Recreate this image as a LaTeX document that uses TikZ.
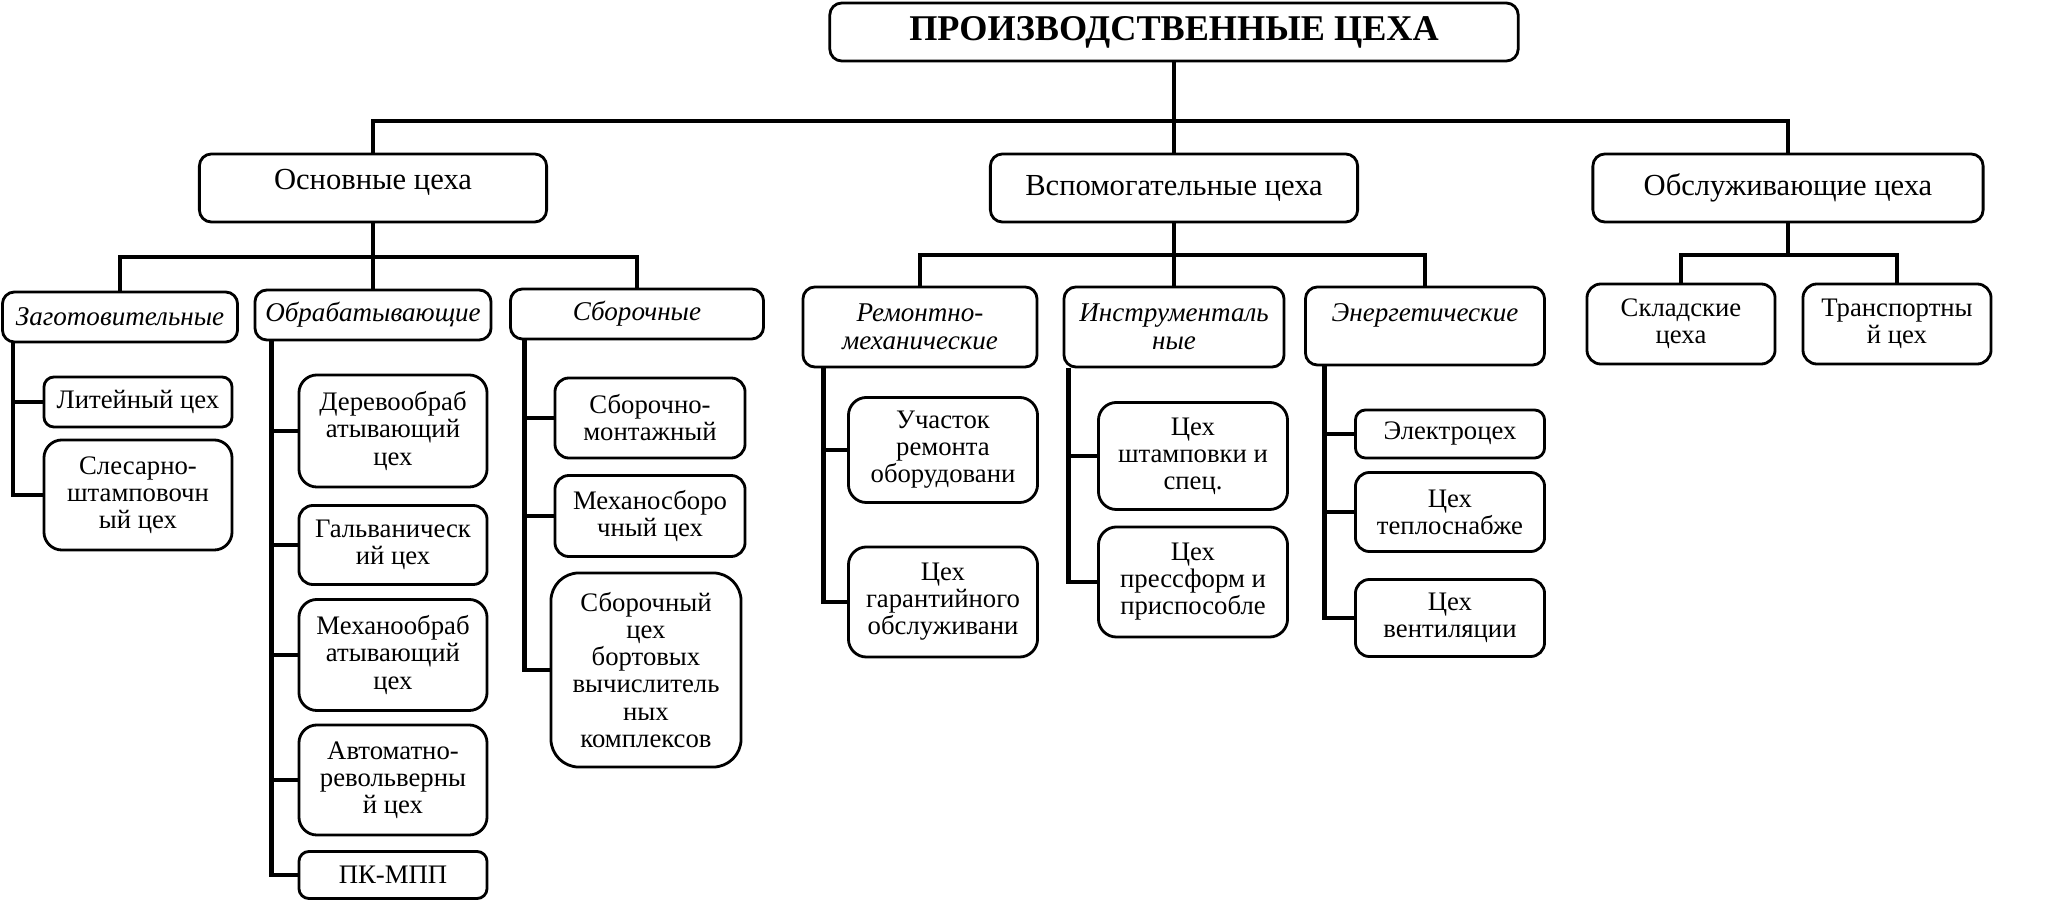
\documentclass[tikz,border=0pt]{standalone}
\usepackage{fontspec}
\setmainfont{Liberation Serif}
\usetikzlibrary{calc}

\begin{document}
\begin{tikzpicture}[x=0.01cm, y=-0.01cm,
  shop/.style={draw, line width=0.8pt, rounded corners=#1, align=center,
               inner sep=1pt, font=\fontsize{7.6}{7.7}\selectfont},
  shop/.default=1.4mm,
  group/.style={shop=1.2mm, font=\fontsize{7.7}{7.9}\selectfont\itshape},
  dept/.style={shop=1.2mm, font=\fontsize{8.7}{10}\selectfont,
               text height=6pt, text depth=1.5pt},
  link/.style={line width=1.3pt}]
  \useasboundingbox (0,0) rectangle (2048,919);

  % Top box
  \node[shop=1.2mm, minimum width=6.88cm, minimum height=0.58cm,
        font=\fontsize{10.3}{12}\selectfont\bfseries] (top) at (1174,32)
        {ПРОИЗВОДСТВЕННЫЕ ЦЕХА};

  % Three kinds of shops
  \node[dept, minimum width=3.47cm, minimum height=0.68cm, text depth=5pt]
        (osn) at (373,188) {Основные цеха};
  \node[dept, minimum width=3.67cm, minimum height=0.68cm]
        (vsp) at (1174,188) {Вспомогательные цеха};
  \node[dept, minimum width=3.90cm, minimum height=0.68cm]
        (obs) at (1788,188) {Обслуживающие цеха};

  % Groups
  \node[group, minimum width=2.35cm, minimum height=0.50cm] (zag) at (120,317) {Заготовительные};
  \node[group, minimum width=2.36cm, minimum height=0.50cm] (obr) at (373,315) {Обрабатывающие};
  \node[group, minimum width=2.53cm, minimum height=0.50cm] (sbr) at (637,314) {Сборочные};
  \node[group, minimum width=2.34cm, minimum height=0.80cm] (rem) at (920,327) {Ремонтно-\\механические};
  \node[group, minimum width=2.20cm, minimum height=0.80cm] (ins) at (1174,327) {Инструменталь\\ные};
  \node[group, minimum width=2.39cm, minimum height=0.78cm] (enr) at (1425,326) {Энергетические\\\mbox{}};
  \node[shop, minimum width=1.88cm, minimum height=0.80cm] (skl) at (1681,324) {Складские\\цеха};
  \node[shop, minimum width=1.88cm, minimum height=0.80cm] (trn) at (1897,324) {Транспортны\\й цех};

  % Procurement shops
  \node[shop=1mm, minimum width=1.88cm, minimum height=0.50cm] (lit) at (138,402) {Литейный цех};
  \node[shop=1.8mm, minimum width=1.88cm, minimum height=1.10cm] (sls) at (138,495) {Слесарно-\\штамповочн\\ый цех};

  % Processing shops
  \node[shop=1.8mm, minimum width=1.88cm, minimum height=1.12cm] (der) at (393,431) {Деревообраб\\атывающий\\цех};
  \node[shop, minimum width=1.88cm, minimum height=0.79cm] (glv) at (393,545) {Гальваническ\\ий цех};
  \node[shop=1.8mm, minimum width=1.88cm, minimum height=1.11cm] (mex) at (393,655) {Механообраб\\атывающий\\цех};
  \node[shop=1.8mm, minimum width=1.88cm, minimum height=1.10cm] (avt) at (393,780) {Автоматно-\\револьверны\\й цех};
  \node[shop=1mm, minimum width=1.88cm, minimum height=0.47cm] (pkm) at (393,875) {ПК-МПП};

  % Assembly shops
  \node[shop, minimum width=1.90cm, minimum height=0.80cm] (smn) at (650,418) {Сборочно-\\монтажный};
  \node[shop, minimum width=1.90cm, minimum height=0.81cm] (msb) at (650,516) {Механосборо\\чный цех};
  \node[shop=2.8mm, minimum width=1.90cm, minimum height=1.94cm] (bvk) at (646,670)
        {Сборочный\\цех\\бортовых\\вычислитель\\ных\\комплексов};

  % Auxiliary shops
  \node[shop=1.8mm, minimum width=1.89cm, minimum height=1.05cm] (uch) at (943,450) {Участок\\ремонта\\оборудовани};
  \node[shop=1.8mm, minimum width=1.89cm, minimum height=1.10cm] (gar) at (943,602) {Цех\\гарантийного\\обслуживани};
  \node[shop=1.8mm, minimum width=1.89cm, minimum height=1.07cm] (stm) at (1193,456) {Цех\\штамповки и\\спец.};
  \node[shop=1.8mm, minimum width=1.89cm, minimum height=1.10cm] (prs) at (1193,582) {Цех\\прессформ и\\приспособле};
  \node[shop=1mm, minimum width=1.89cm, minimum height=0.48cm] (elc) at (1450,434) {Электроцех};
  \node[shop, minimum width=1.89cm, minimum height=0.79cm] (tep) at (1450,512) {Цех\\теплоснабже};
  \node[shop, minimum width=1.89cm, minimum height=0.77cm] (ven) at (1450,618) {Цех\\вентиляции};

  % Buses
  \coordinate (bus1) at (1174,121);
  \coordinate (bus2) at (373,257);
  \coordinate (bus3) at (1174,255);
  \coordinate (bus4) at (1788,255);

  \draw[link] (top.south) -- (vsp.north);
  \draw[link] (osn.north) |- (bus1) -| (obs.north);

  \draw[link] (osn.south) -- (obr.north);
  \draw[link] (zag.north) |- (bus2) -| (sbr.north);
  \draw[link] (vsp.south) -- (ins.north);
  \draw[link] (rem.north) |- (bus3) -| (enr.north);
  \draw[link] (obs.south) -- (bus4);
  \draw[link] (skl.north) |- (bus4) -| (trn.north);

  % Side rails
  \foreach \c in {lit,sls}
    \draw[link] ([xshift=1.2mm]zag.south west) |- (\c.west);
  \foreach \c in {der,glv,mex,avt,pkm}
    \draw[link] ([xshift=1.8mm]obr.south west) |- (\c.west);
  \foreach \c in {smn,msb,bvk}
    \draw[link] ([xshift=1.55mm]sbr.south west) |- (\c.west);
  \foreach \c in {uch,gar}
    \draw[link] ([xshift=2.2mm]rem.south west) |- (\c.west);
  \foreach \c in {stm,prs}
    \draw[link] ([xshift=0.6mm]ins.south west) |- (\c.west);
  \foreach \c in {elc,tep,ven}
    \draw[link] ([xshift=2.05mm]enr.south west) |- (\c.west);
\end{tikzpicture}
\end{document}
